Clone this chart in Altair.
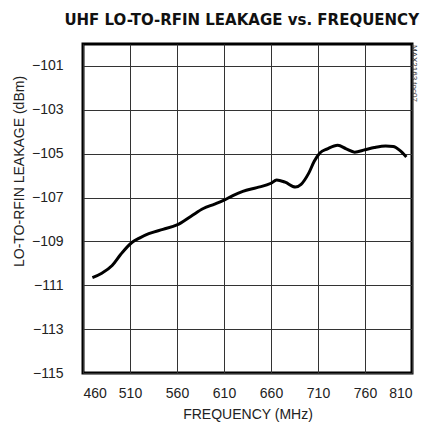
import altair as alt
import pandas as pd

freq = [470, 480, 491, 500, 512, 520, 530, 545, 560, 575, 588, 600, 610, 620, 630, 645,
        660, 666, 675, 686, 692, 700, 706, 712, 720, 731, 740, 749, 760, 770, 782, 790, 797, 804]
leak = [-110.65, -110.45, -110.1, -109.6, -109.05, -108.85, -108.65, -108.45, -108.25, -107.85,
        -107.5, -107.3, -107.12, -106.9, -106.72, -106.55, -106.35, -106.2, -106.3, -106.52,
        -106.4, -105.9, -105.35, -104.97, -104.78, -104.62, -104.78, -104.93, -104.82, -104.72,
        -104.65, -104.67, -104.85, -105.15]
x_ticks = [460, 510, 560, 610, 660, 710, 760, 810]
y_ticks = [-115, -113, -111, -109, -107, -105, -103, -101]
title_text = ["UHF LO-TO-RFIN LEAKAGE vs. FREQUENCY"]
note_text = ["MAX2163 toc07"]

df = pd.DataFrame({"f": freq, "v": leak})

FONT = "Liberation Sans, Arial, sans-serif"
TFONT = "DejaVu Sans, sans-serif"

line = alt.Chart(df).mark_line(color="black", strokeWidth=3, interpolate="monotone").encode(
    x=alt.X("f:Q", scale=alt.Scale(domain=[460, 810], nice=False, zero=False),
            axis=alt.Axis(values=x_ticks, title="FREQUENCY (MHz)", grid=True, gridColor="#333",
                          gridWidth=1, ticks=False, domain=False, labelPadding=13,
                          labelFontSize=14, labelFont=FONT, labelColor="#222",
                          titleFont=FONT, titleFontSize=14, titleFontWeight="normal",
                          titleColor="#222", titlePadding=7)),
    y=alt.Y("v:Q", scale=alt.Scale(domain=[-115, -100], nice=False, zero=False),
            axis=alt.Axis(values=y_ticks, title="LO-TO-RFIN LEAKAGE (dBm)", grid=True,
                          gridColor="#333", gridWidth=1, ticks=False, domain=False,
                          labelPadding=20, labelFontSize=14, labelFont=FONT, labelColor="#222",
                          titleFont=FONT, titleFontSize=14, titleFontWeight="normal",
                          titleColor="#222", titleX=-64, titleY=127, titleAngle=-90,
                          titleAlign="center", titleBaseline="middle")),
)

note = alt.Chart(pd.DataFrame({"t": note_text})).mark_text(
    angle=90, align="left", baseline="middle", fontSize=8, font=FONT, color="#333"
).encode(x=alt.value(331), y=alt.value(1), text="t:N")

title = alt.Chart(pd.DataFrame({"t": title_text})).mark_text(
    align="right", baseline="alphabetic", fontSize=15, font=TFONT, fontWeight="bold",
    color="#111"
).encode(x=alt.value(336), y=alt.value(-19), text="t:N")

chart = alt.layer(line, note, title).properties(
    width=329, height=329,
    autosize=alt.AutoSizeParams(type="none"),
    padding={"left": 75, "top": 36, "right": 8, "bottom": 52},
).configure_view(stroke="black", strokeWidth=3)

chart.save("out.html", embed_options={"renderer": "svg", "actions": False})
